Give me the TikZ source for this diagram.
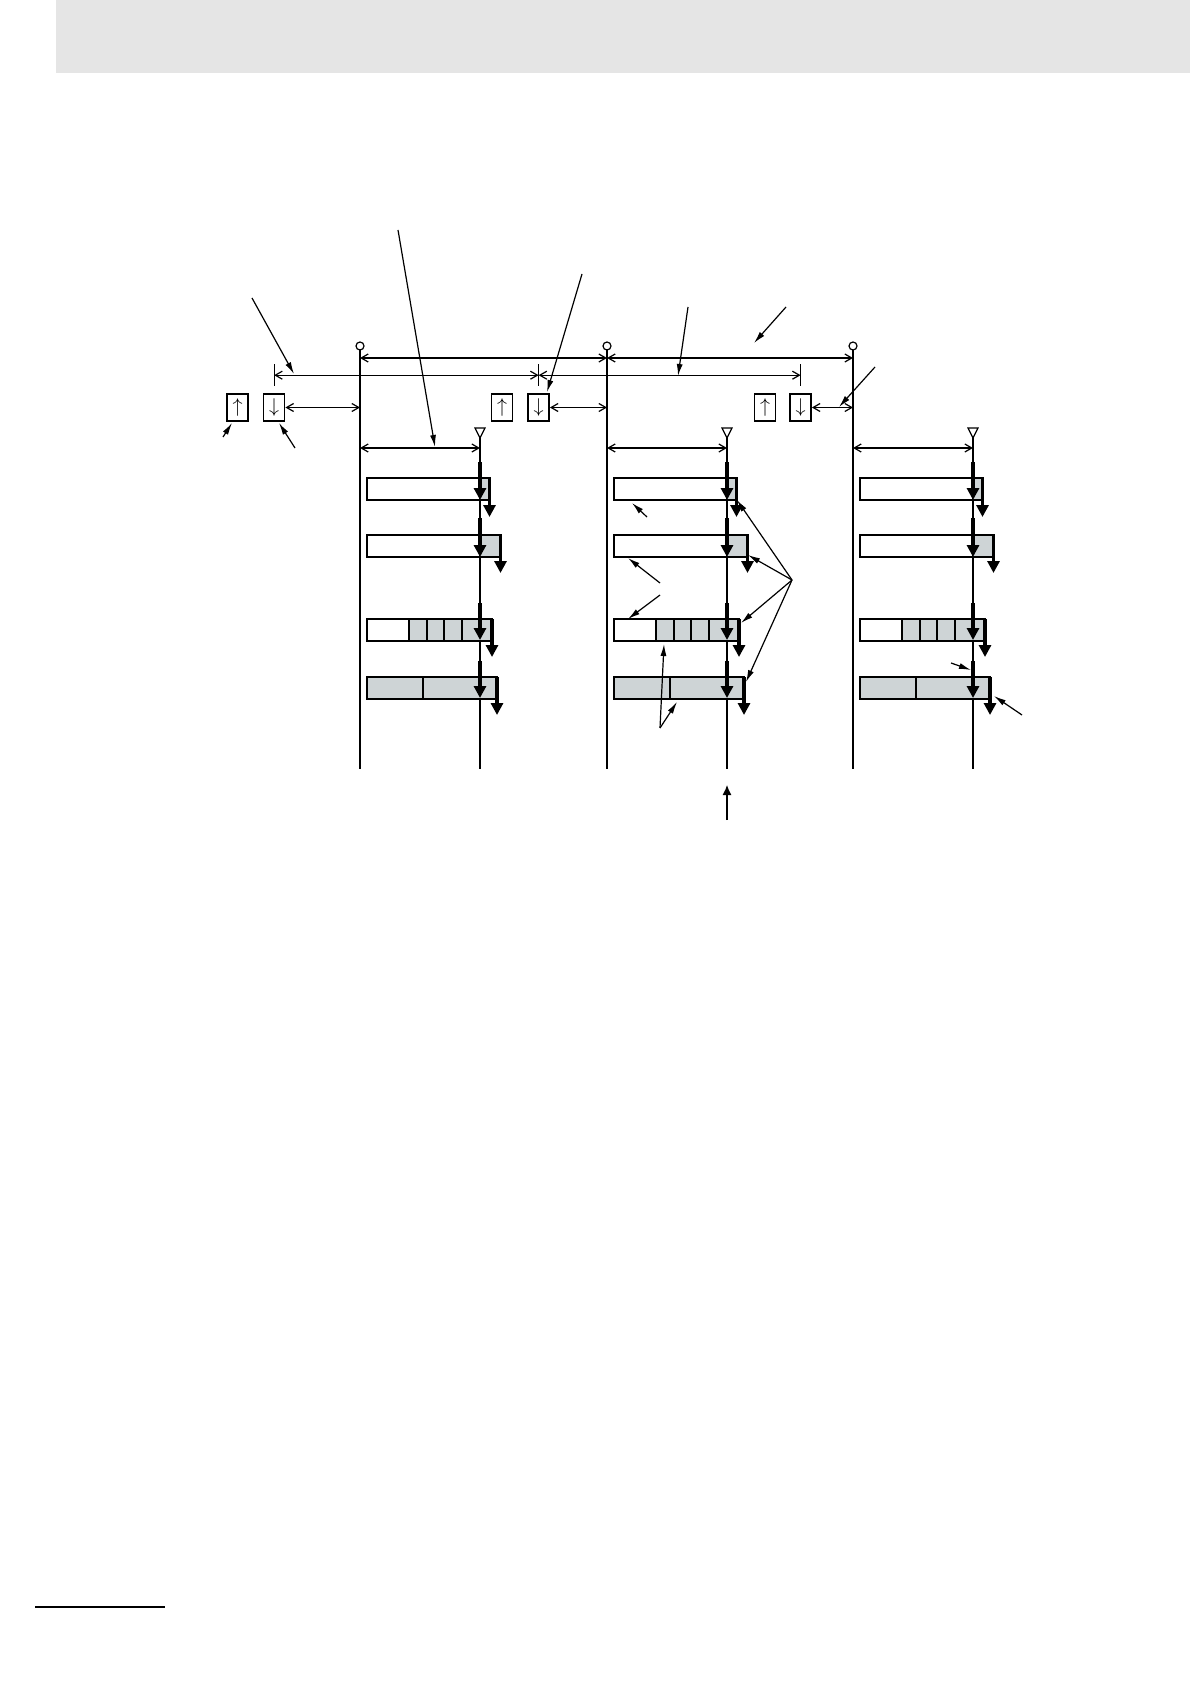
\documentclass[tikz,border=0pt]{standalone}
\usepackage{tikz}
\usetikzlibrary{arrows.meta}
\usetikzlibrary{calc}
\usetikzlibrary{positioning}
\definecolor{barfill}{RGB}{206,212,214}
\definecolor{headgray}{RGB}{229,229,229}

\tikzset{
  thinline/.style={line width=0.6pt},
  dimline/.style={line width=0.6pt,{Straight Barb[length=3.5pt,width=4pt]}-{Straight Barb[length=3.5pt,width=4pt]}},
  leader/.style={line width=0.6pt,-{Latex[length=6pt,width=3pt]}},
  bigarrow/.style={line width=1.6pt,-{Triangle[length=6pt,width=6pt]}},
  bar/.style={line width=1pt},
  dirbox/.style={draw,line width=0.8pt,minimum width=10.5pt,minimum height=13.5pt,inner sep=0pt,font=\normalsize}
}

\begin{document}
\begin{tikzpicture}[x=0.5pt,y=-0.5pt]
\useasboundingbox (0,0) rectangle (1190,1684);

% page header and footer rule
\fill[headgray] (56,0) rectangle (1190,73);
\draw[line width=1.2pt] (35,1607) -- (165,1607);

% the three cycles
\foreach \L/\T [count=\i] in {360/480,607/727,853/973}{
  \coordinate (c\i) at (\L,346);
  \coordinate (s\i) at (\T,433);
  \draw[thinline] (c\i) circle[radius=2pt];
  \draw[thinline] (\L,350) -- (\L,769);
  \draw[thinline] (\T,438) -- (\T,769);
  \draw[thinline] (\T-5,428) -- (\T+5,428) -- (\T,438) -- cycle;
  \draw[dimline] (\L,448) -- (\T,448);
  % row 1
  \fill[barfill] (\T,478) rectangle (\T+9.5,500);
  \draw[bar] (\L+7,478) rectangle (\T+9.5,500);
  \draw[bigarrow] (\T,462) -- (\T,500);
  \draw[bigarrow] (\T+9.5,478) -- (\T+9.5,517);
  % row 2
  \fill[barfill] (\T,535) rectangle (\T+20.5,557);
  \draw[bar] (\L+7,535) rectangle (\T+20.5,557);
  \draw[bigarrow] (\T,518) -- (\T,557);
  \draw[bigarrow] (\T+20.5,535) -- (\T+20.5,573);
  % row 3
  \fill[barfill] (\T-71,619) rectangle (\T+12,641);
  \draw[bar] (\L+7,619) rectangle (\T+12,641);
  \foreach \d in {71,53,36,18}
    \draw[bar] (\T-\d,619) -- (\T-\d,641);
  \draw[bigarrow] (\T,603) -- (\T,640);
  \draw[bigarrow] (\T+12,619) -- (\T+12,657);
  % row 4
  \fill[barfill] (\L+7,677) rectangle (\T+17,699);
  \draw[bar] (\L+7,677) rectangle (\T+17,699);
  \draw[bar] (\T-57,677) -- (\T-57,699);
  \draw[bigarrow] (\T,661) -- (\T,698);
  \draw[bigarrow] (\T+17,677) -- (\T+17,715);
}

% up/down boxes
\node[dirbox] (up1) at (237.5,407.5) {$\uparrow$};
\node[dirbox,right=7pt of up1] (dn1) {$\downarrow$};
\node[dirbox] (up2) at (502,407.5) {$\uparrow$};
\node[dirbox,right=7pt of up2] (dn2) {$\downarrow$};
\node[dirbox] (up3) at (765,407.5) {$\uparrow$};
\node[dirbox,right=6.5pt of up3] (dn3) {$\downarrow$};

\draw[dimline] (dn1.east) -- (dn1.east -| c1);
\draw[dimline] (dn2.east) -- (dn2.east -| c2);
\draw[dimline] (dn3.east) -- (dn3.east -| c3);

% period dimensions
\draw[dimline] ($(c1)+(0,12)$) -- ($(c2)+(0,12)$);
\draw[dimline] ($(c2)+(0,12)$) -- ($(c3)+(0,12)$);
\foreach \j in {1,2,3}{
  \coordinate (tk\j) at ($(dn\j.north)+(0,-18)$);
  \draw[thinline] ($(tk\j)+(0,-11)$) -- ($(tk\j)+(0,11)$);
}
\draw[dimline] (tk1) -- (tk2);
\draw[dimline] (tk2) -- (tk3);

% leaders
\foreach \a/\b/\c/\d [count=\k] in {252/298/294/374, 398/230/435/447, 582/274/547/392,
    688/307/678/376, 786/307/754/343, 875/367/839/407, 223/437/232/423, 295/448/279/423,
    647/517/632/503, 660/583/628/558, 660/595/628/619, 951/663/971/670, 1022/715/994/696}
  \draw[leader] (\a,\b) coordinate (p\k) -- (\c,\d) coordinate (q\k);

\coordinate (fan) at (792,580);
\foreach \c/\d in {737/500, 748/555, 741/623, 746/682}
  \draw[leader] (fan) -- (\c,\d);

\coordinate (lo) at (660,728);
\draw[leader] (lo) -- (664,644);
\draw[leader] (lo) -- (677,702);

\coordinate (mark) at (727,820);
\draw[line width=0.6pt,-{Latex[length=5pt,width=4.5pt]}] (mark) -- (727,785);

\end{tikzpicture}
\end{document}
